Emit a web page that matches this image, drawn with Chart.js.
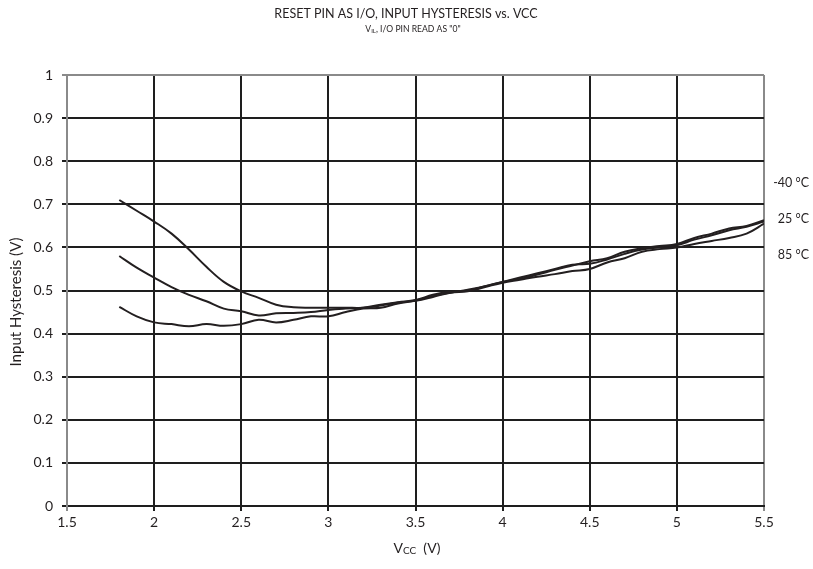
<!DOCTYPE html>
<html>
<head>
<meta charset="utf-8">
<script src="https://cdn.jsdelivr.net/npm/chart.js@4.4.1/dist/chart.umd.min.js"></script>
<style>
  html, body { margin: 0; padding: 0; background: #fff; }
  #wrap { width: 813px; height: 569px; }
</style>
</head>
<body>
<div id="wrap"><canvas id="grafico"></canvas></div>
<script>
// Vcc (V)
const vcc = [1.8, 1.9, 2.0, 2.1, 2.2, 2.3, 2.4, 2.5, 2.6, 2.7, 2.8, 2.9, 3.0, 3.1, 3.2, 3.3, 3.4, 3.5, 3.6,
             3.7, 3.8, 3.9, 4.0, 4.1, 4.2, 4.3, 4.4, 4.5, 4.6, 4.7, 4.8, 4.9, 5.0, 5.1, 5.2, 5.3, 5.4, 5.5];

// input hysteresis (V)
const histMenos40 = [0.71, 0.685, 0.66, 0.632, 0.595, 0.555, 0.52, 0.498, 0.483, 0.467, 0.461, 0.46, 0.46, 0.46, 0.46,
                     0.465, 0.472, 0.477, 0.487, 0.495, 0.502, 0.51, 0.52, 0.527, 0.537, 0.548, 0.558, 0.568, 0.575,
                     0.59, 0.598, 0.603, 0.608, 0.622, 0.632, 0.644, 0.65, 0.663];
const hist25 = [0.58, 0.553, 0.53, 0.508, 0.49, 0.475, 0.458, 0.452, 0.442, 0.447, 0.448, 0.45, 0.455, 0.458, 0.46,
                0.467, 0.473, 0.478, 0.49, 0.497, 0.5, 0.51, 0.52, 0.53, 0.54, 0.55, 0.56, 0.562, 0.572,
                0.585, 0.595, 0.6, 0.605, 0.618, 0.628, 0.64, 0.648, 0.66];
const hist85 = [0.462, 0.44, 0.426, 0.422, 0.417, 0.422, 0.418, 0.422, 0.432, 0.426, 0.432, 0.44, 0.44, 0.45, 0.458,
                0.46, 0.47, 0.476, 0.485, 0.495, 0.498, 0.508, 0.518, 0.525, 0.532, 0.538, 0.545, 0.55, 0.565,
                0.575, 0.59, 0.596, 0.6, 0.608, 0.615, 0.622, 0.632, 0.655];

const rotulosTemp = ['-40 °C', '25 °C', '85 °C'];

const fonte = 'Lato, "Open Sans", sans-serif';
const corLinha = '#231f20';

function pontos(ys) {
    return vcc.map((x, i) => ({ x: x, y: ys[i] }));
}

function serie(label, ys) {
    return {
        label: label,
        data: pontos(ys),
        borderColor: corLinha,
        borderWidth: 2,
        pointRadius: 0,
        tension: 0.4,
        fill: false
    };
}

// titles, axis titles with subscripts and temperature labels
const textos = {
    id: 'textos',
    afterDraw(chart) {
        const c = chart.ctx;
        c.save();
        c.fillStyle = '#231f20';
        c.textBaseline = 'middle';

        c.font = '12.5px ' + fonte;
        c.textAlign = 'center';
        c.fillText('RESET PIN AS I/O, INPUT HYSTERESIS vs. VCC', 406, 14);

        // subtitle: V_IL, I/O PIN READ AS "0"
        const sub1 = 'V', sub2 = 'IL', sub3 = ', I/O PIN READ AS "0"';
        c.font = '8.6px ' + fonte;
        const w1 = c.measureText(sub1).width, w3 = c.measureText(sub3).width;
        c.font = '6px ' + fonte;
        const w2 = c.measureText(sub2).width;
        let x = 413 - (w1 + w2 + w3) / 2;
        c.textAlign = 'left';
        c.font = '8.6px ' + fonte;
        c.fillText(sub1, x, 29);
        c.font = '6px ' + fonte;
        c.fillText(sub2, x + w1, 31);
        c.font = '8.6px ' + fonte;
        c.fillText(sub3, x + w1 + w2, 29);

        // x axis title
        c.font = '14px ' + fonte;
        const v1 = c.measureText('V').width, v3 = c.measureText('  (V)').width;
        c.font = '10px ' + fonte;
        const v2 = c.measureText('CC').width;
        x = 417 - (v1 + v2 + v3) / 2;
        c.font = '14px ' + fonte;
        c.fillText('V', x, 548);
        c.font = '10px ' + fonte;
        c.fillText('CC', x + v1, 551);
        c.font = '14px ' + fonte;
        c.fillText('  (V)', x + v1 + v2, 548);

        // y axis title
        c.save();
        c.translate(16, 302);
        c.rotate(-Math.PI / 2);
        c.textAlign = 'center';
        c.font = '15px ' + fonte;
        c.fillText('Input Hysteresis (V)', 0, 0);
        c.restore();

        // temperature labels at the right
        c.font = '12.5px ' + fonte;
        c.textAlign = 'right';
        const yRot = [183, 219, 255];
        rotulosTemp.forEach((t, i) => c.fillText(t, 809, yRot[i]));
        c.restore();
    }
};

const ctx = document.getElementById('grafico');

new Chart(ctx, {
    type: 'line',
    data: {
        datasets: [
            serie(rotulosTemp[0], histMenos40),
            serie(rotulosTemp[1], hist25),
            serie(rotulosTemp[2], hist85)
        ]
    },
    options: {
        responsive: true,
        maintainAspectRatio: false,
        animation: false,
        layout: { padding: { left: 0, top: 75, right: 49, bottom: 0 } },
        plugins: {
            legend: { display: false },
            title: { display: false },
            tooltip: { enabled: false }
        },
        scales: {
            x: {
                type: 'linear',
                min: 1.5,
                max: 5.5,
                afterFit: (s) => { s.height = 63; },
                ticks: {
                    stepSize: 0.5,
                    padding: 3,
                    color: '#231f20',
                    font: { family: fonte, size: 14 },
                    callback: (v) => String(Math.round(v * 10) / 10)
                },
                grid: {
                    lineWidth: 2,
                    tickLength: 5,
                    color: (c) => (c.tick && (c.tick.value === 1.5 || c.tick.value === 5.5)) ? '#8a8a8a' : '#1e1e1e'
                },
                border: { color: '#1e1e1e', width: 2 }
            },
            y: {
                min: 0,
                max: 1,
                afterFit: (s) => { s.width = 67; },
                ticks: {
                    stepSize: 0.1,
                    padding: 9,
                    color: '#231f20',
                    font: { family: fonte, size: 14 },
                    callback: (v) => String(Math.round(v * 10) / 10)
                },
                grid: {
                    lineWidth: 2,
                    tickLength: 5,
                    color: (c) => (c.tick && c.tick.value === 1) ? '#8a8a8a' : '#1e1e1e'
                },
                border: { color: '#8a8a8a', width: 2 }
            }
        }
    },
    plugins: [textos]
});
</script>
</body>
</html>
